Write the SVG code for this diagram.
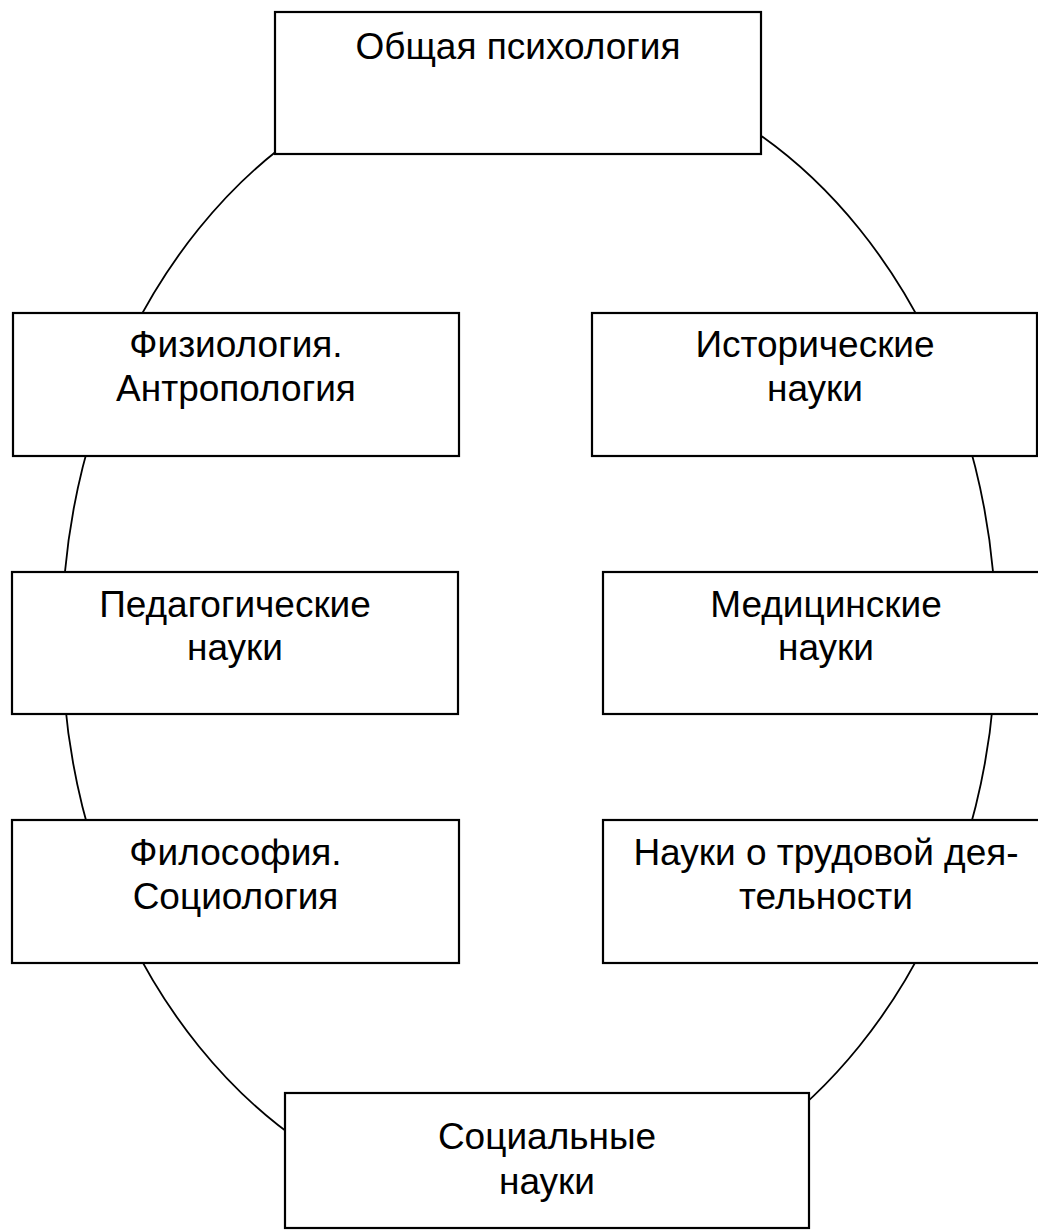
<svg xmlns="http://www.w3.org/2000/svg" width="1038" height="1231" viewBox="0 0 1038 1231">
<style>
.box{fill:#ffffff;stroke:#000000;stroke-width:2.2}
.ring{fill:none;stroke:#000000;stroke-width:1.8}
.t{font-family:"Liberation Sans",Arial,sans-serif;font-size:37px;fill:#000000;text-anchor:middle}
</style>
<rect width="1038" height="1231" fill="#ffffff"/>
<g id="connectors">
<ellipse class="ring" cx="529" cy="637.5" rx="467" ry="578"/>
</g>
<g id="node-general">
<rect class="box" x="275" y="12" width="486" height="142"/>
<text class="t" x="518" y="59">Общая психология</text>
</g>
<g id="node-physiology">
<rect class="box" x="13" y="313" width="446" height="143"/>
<text class="t" x="236" y="357">Физиология.</text>
<text class="t" x="236" y="401">Антропология</text>
</g>
<g id="node-history">
<rect class="box" x="592" y="313" width="445" height="143"/>
<text class="t" x="815" y="357">Исторические</text>
<text class="t" x="815" y="401">науки</text>
</g>
<g id="node-pedagogy">
<rect class="box" x="12" y="572" width="446" height="142"/>
<text class="t" x="235" y="617">Педагогические</text>
<text class="t" x="235" y="660">науки</text>
</g>
<g id="node-medicine">
<rect class="box" x="603" y="572" width="446" height="142"/>
<text class="t" x="826" y="617">Медицинские</text>
<text class="t" x="826" y="660">науки</text>
</g>
<g id="node-philosophy">
<rect class="box" x="12" y="820" width="447" height="143"/>
<text class="t" x="235.5" y="865">Философия.</text>
<text class="t" x="235.5" y="909">Социология</text>
</g>
<g id="node-labor">
<rect class="box" x="603" y="820" width="446" height="143"/>
<text class="t" x="826" y="865">Науки о трудовой дея-</text>
<text class="t" x="826" y="909">тельности</text>
</g>
<g id="node-social">
<rect class="box" x="285" y="1093" width="524" height="135"/>
<text class="t" x="547" y="1149">Социальные</text>
<text class="t" x="547" y="1194">науки</text>
</g>
</svg>
